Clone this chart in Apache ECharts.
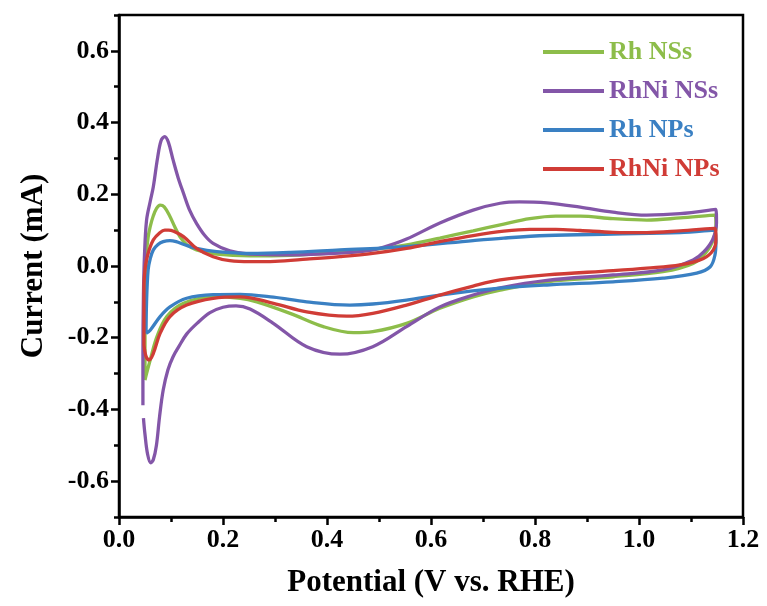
<!DOCTYPE html>
<html><head><meta charset="utf-8">
<script src="https://cdn.jsdelivr.net/npm/echarts@6/dist/echarts.min.js"></script>
<style>html,body{margin:0;padding:0;background:#fff}#c{width:767px;height:606px}</style>
</head><body><div id="c"></div>
<script>
const seriesNames = ['Rh NSs', 'RhNi NSs', 'Rh NPs', 'RhNi NPs'];
const seriesColors = ['#8dbd4a', '#8356a8', '#3a80c3', '#d03c36'];

// Rh NSs (green): anodic sweep then cathodic sweep, [potential V, current mA]
const rhNSs = [
  [0.05,-0.318],[0.05,-0.2],[0.051,-0.08],[0.053,0.036],[0.056,0.08],[0.060,0.11],[0.066,0.14],[0.072,0.16],
  [0.079,0.170],[0.087,0.165],[0.098,0.138],[0.107,0.11],[0.117,0.082],[0.13,0.06],[0.149,0.045],[0.188,0.033],
  [0.252,0.028],[0.33,0.03],[0.425,0.038],[0.488,0.046],[0.553,0.059],[0.617,0.078],[0.681,0.098],[0.74,0.117],
  [0.79,0.132],[0.84,0.139],[0.887,0.139],[0.95,0.132],[1.015,0.128],[1.079,0.134],[1.146,0.142],
  [1.148,0.11],[1.142,0.07],[1.130,0.04],[1.104,0.007],[1.046,-0.016],[0.95,-0.03],[0.823,-0.044],[0.733,-0.067],
  [0.681,-0.086],[0.617,-0.118],[0.553,-0.16],[0.488,-0.183],[0.451,-0.186],[0.393,-0.169],[0.329,-0.132],
  [0.265,-0.1],[0.233,-0.09],[0.181,-0.086],[0.124,-0.104],[0.092,-0.141],[0.073,-0.197],[0.060,-0.262],
  [0.053,-0.30],[0.05,-0.318]
];

// RhNi NSs (purple)
const rhniNSs = [
  [0.046,-0.388],[0.046,-0.25],[0.047,-0.08],[0.049,0.03],[0.053,0.128],[0.060,0.18],[0.066,0.221],[0.074,0.30],
  [0.081,0.35],[0.088,0.361],[0.095,0.345],[0.104,0.296],[0.114,0.245],[0.124,0.203],[0.136,0.155],[0.149,0.119],
  [0.165,0.085],[0.181,0.063],[0.213,0.042],[0.252,0.033],[0.329,0.031],[0.425,0.036],[0.48,0.043],[0.508,0.052],
  [0.553,0.075],[0.617,0.12],[0.681,0.156],[0.733,0.175],[0.77,0.179],[0.823,0.176],[0.887,0.164],[0.95,0.150],
  [1.015,0.142],[1.079,0.146],[1.148,0.158],
  [1.149,0.12],[1.142,0.075],[1.125,0.04],[1.104,0.017],[1.046,-0.011],[0.95,-0.025],[0.823,-0.04],[0.733,-0.061],
  [0.681,-0.081],[0.617,-0.114],[0.553,-0.169],[0.488,-0.225],[0.425,-0.246],[0.361,-0.225],[0.296,-0.159],
  [0.252,-0.12],[0.225,-0.111],[0.200,-0.115],[0.175,-0.13],[0.150,-0.16],[0.13,-0.19],[0.115,-0.225],
  [0.104,-0.253],[0.094,-0.29],[0.085,-0.346],[0.078,-0.42],[0.072,-0.50],[0.066,-0.54],[0.061,-0.549],
  [0.055,-0.525],[0.05,-0.47],[0.047,-0.424]
];

// Rh NPs (blue)
const rhNPs = [
  [0.052,-0.188],[0.053,-0.10],[0.056,-0.011],[0.060,0.02],[0.066,0.045],[0.075,0.06],[0.085,0.068],[0.098,0.071],
  [0.11,0.068],[0.125,0.06],[0.149,0.049],[0.188,0.04],[0.252,0.035],[0.33,0.038],[0.425,0.045],[0.553,0.054],
  [0.681,0.071],[0.74,0.078],[0.823,0.085],[0.95,0.089],[1.079,0.093],[1.146,0.10],
  [1.148,0.07],[1.146,0.03],[1.137,-0.002],[1.111,-0.02],[1.046,-0.034],[0.95,-0.044],[0.823,-0.053],[0.733,-0.062],
  [0.617,-0.081],[0.553,-0.095],[0.488,-0.106],[0.444,-0.109],[0.361,-0.1],[0.297,-0.087],[0.233,-0.079],
  [0.181,-0.08],[0.130,-0.09],[0.098,-0.114],[0.079,-0.141],[0.060,-0.179],[0.052,-0.188]
];

// RhNi NPs (red)
const rhniNPs = [
  [0.048,-0.22],[0.048,-0.14],[0.048,-0.058],[0.050,-0.01],[0.053,0.017],[0.058,0.045],[0.066,0.073],[0.078,0.092],
  [0.088,0.1],[0.095,0.10],[0.105,0.097],[0.124,0.082],[0.149,0.049],[0.181,0.026],[0.213,0.015],[0.252,0.012],
  [0.30,0.013],[0.361,0.019],[0.425,0.026],[0.488,0.035],[0.553,0.049],[0.617,0.068],[0.681,0.085],[0.74,0.097],
  [0.79,0.102],[0.84,0.102],[0.887,0.099],[0.95,0.094],[1.015,0.093],[1.079,0.098],[1.146,0.105],
  [1.148,0.073],[1.143,0.045],[1.124,0.021],[1.079,0.003],[1.015,-0.006],[0.95,-0.013],[0.823,-0.025],[0.733,-0.039],
  [0.681,-0.056],[0.617,-0.081],[0.553,-0.109],[0.488,-0.132],[0.438,-0.14],[0.361,-0.128],[0.297,-0.104],
  [0.233,-0.086],[0.181,-0.09],[0.130,-0.109],[0.098,-0.141],[0.079,-0.188],[0.066,-0.244],[0.058,-0.262],
  [0.052,-0.252],[0.048,-0.22]
];

const seriesData = [rhNSs, rhniNSs, rhNPs, rhniNPs];
const yTicks = [-0.6,-0.4,-0.2,0,0.2,0.4,0.6];
const yMinorTicks = [-0.7,-0.5,-0.3,-0.1,0.1,0.3,0.5,0.7];

const font = '"Liberation Serif","Times New Roman",serif';
const chart = echarts.init(document.getElementById('c'));
const tickStyle = {color:'#000', width:2.5};
const labelStyle = {fontFamily:font, fontWeight:'bold', fontSize:26, color:'#000'};
const nameStyle = {fontFamily:font, fontWeight:'bold', fontSize:31, color:'#000'};

chart.setOption({
  animation:false,
  backgroundColor:'#fff',
  grid:{left:119, right:24, top:15, bottom:89, show:true, borderColor:'#000', borderWidth:2.5, backgroundColor:'transparent'},
  legend:{
    orient:'vertical', left:538, top:34, itemWidth:61, itemHeight:4, itemGap:13, icon:'rect',
    data: seriesNames.map((n,i)=>({name:n, textStyle:{color:seriesColors[i]}})),
    textStyle:{fontFamily:font, fontWeight:'bold', fontSize:26}
  },
  xAxis:{
    type:'value', min:0, max:1.2, interval:0.2,
    axisLine:{onZero:false, lineStyle:tickStyle},
    axisTick:{length:8, lineStyle:tickStyle},
    minorTick:{show:true, splitNumber:2, length:5, lineStyle:{color:'#000', width:2.5}},
    splitLine:{show:false}, minorSplitLine:{show:false},
    axisLabel:Object.assign({margin:10, formatter:v=>v.toFixed(1)}, labelStyle),
    name:'Potential (V vs. RHE)', nameLocation:'middle', nameGap:50, nameTextStyle:nameStyle
  },
  yAxis:[{
    type:'value', min:-0.7, max:0.7,
    axisLine:{show:true, onZero:false, lineStyle:tickStyle},
    axisTick:{show:true, length:8, lineStyle:tickStyle, customValues:yTicks},
    splitLine:{show:false},
    axisLabel:Object.assign({margin:10, customValues:yTicks, formatter:v=>v.toFixed(1)}, labelStyle),
    name:'Current (mA)', nameLocation:'middle', nameGap:70, nameTextStyle:nameStyle
  },{
    type:'value', min:-0.7, max:0.7, position:'left',
    axisLine:{show:false, onZero:false},
    axisTick:{show:true, length:5, lineStyle:tickStyle, customValues:yMinorTicks},
    axisLabel:{show:false}, splitLine:{show:false}
  }],
  series: seriesData.map((d,i)=>({
    name:seriesNames[i], type:'line', data:d, smooth:0.35, showSymbol:false, symbol:'none',
    lineStyle:{width:3.3, color:seriesColors[i]}, itemStyle:{color:seriesColors[i]}
  }))
});
</script></body></html>
